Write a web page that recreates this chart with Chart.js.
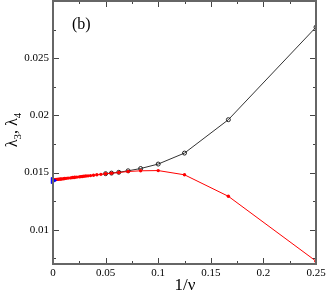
<!DOCTYPE html>
<html><head><meta charset="utf-8">
<script src="https://cdn.jsdelivr.net/npm/chart.js@4"></script>
<style>html,body{margin:0;padding:0;background:#fff;overflow:hidden}#wrap{width:327px;height:293px;overflow:hidden;position:relative}#c{position:absolute;left:0;top:-4px}</style>
</head><body><div id="wrap"><canvas id="c" width="327" height="297"></canvas></div>
<script>
const invNuRed = [0.25,0.1667,0.125,0.1,0.0833,0.0714,0.0625,0.0556,0.05,0.0455,0.0417,0.0385,0.0357,0.0333,0.03125,0.0294,0.0278,0.0263,0.025,0.0227,0.0208,0.02,0.0185,0.0167,0.0143,0.0125,0.0111,0.01,0.0083,0.00714,0.00625,0.005,0.004,0.003,0.002,0.001];
const lambda4 = [0.00725,0.01292,0.0148,0.01517,0.01515,0.01509,0.01500,0.01494,0.01489,0.01484,0.01480,0.01476,0.01473,0.01471,0.01469,0.01467,0.01465,0.01464,0.01462,0.01460,0.01458,0.01457,0.01456,0.01453,0.01451,0.01449,0.01448,0.01446,0.01444,0.01443,0.01442,0.01441,0.01440,0.01439,0.01438,0.01437];
const invNuBlack = [0.25,0.1667,0.125,0.1,0.0833,0.0714,0.0625,0.0556,0.05];
const lambda3 = [0.02771,0.01962,0.0167,0.01574,0.01535,0.01515,0.01502,0.01495,0.0149];
const limitX = [0];
const limitY = [0.0143];
const xTicks = [0,0.05,0.1,0.15,0.2,0.25];
const yTicks = [0.01,0.015,0.02,0.025];

const toPts = (xs, ys) => xs.map((x,i)=>({x:x,y:ys[i]}));
const SERIF = '"Liberation Serif","Times New Roman",serif';
const OFF = 4;

const frame = {
  id:'frame',
  afterDraw(chart){
    const ctx=chart.ctx, a=chart.chartArea, xs=chart.scales.x, ys=chart.scales.y;
    ctx.save();
    ctx.strokeStyle='#444'; ctx.lineWidth=1;
    for(let v=0; v<=0.2501; v+=0.025){
      const p=Math.round(xs.getPixelForValue(v))+0.5;
      const major = Math.abs((v/0.05)-Math.round(v/0.05))<1e-6;
      const L = major?6:3;
      ctx.beginPath();
      ctx.moveTo(p,a.bottom); ctx.lineTo(p,a.bottom-L);
      ctx.moveTo(p,a.top); ctx.lineTo(p,a.top+L);
      ctx.stroke();
    }
    for(let v=0.0075; v<=0.0301; v+=0.0025){
      const p=Math.round(ys.getPixelForValue(v))+0.5;
      const major = Math.abs((v/0.005)-Math.round(v/0.005))<1e-6;
      const L = major?6:3;
      ctx.beginPath();
      ctx.moveTo(a.left,p); ctx.lineTo(a.left+L,p);
      ctx.moveTo(a.right,p); ctx.lineTo(a.right-L,p);
      ctx.stroke();
    }
    ctx.strokeStyle='#666'; ctx.lineWidth=2;
    ctx.strokeRect(a.left,a.top,a.right-a.left,a.bottom-a.top);
    ctx.fillStyle='#000';
    ctx.font='16px '+SERIF;
    ctx.textBaseline='alphabetic'; ctx.textAlign='left';
    ctx.fillText('(b)',72,29+OFF);
    ctx.font='17px '+SERIF; ctx.textAlign='center';
    ctx.fillText('1/\u03bd',185,290+OFF);
    ctx.translate(17,130+OFF); ctx.rotate(-Math.PI/2);
    ctx.textAlign='left';
    const big='16px '+SERIF, small='11px '+SERIF;
    const parts=[['\u03bb',big,0],['3',small,4],[', ',big,0],['\u03bb',big,0],['4',small,4]];
    let w=0; parts.forEach(p=>{ctx.font=p[1]; w+=ctx.measureText(p[0]).width;});
    let x=-w/2;
    parts.forEach(p=>{ctx.font=p[1]; ctx.fillText(p[0],x,p[2]); x+=ctx.measureText(p[0]).width;});
    ctx.restore();
  }
};

new Chart(document.getElementById('c'),{
  type:'scatter',
  data:{datasets:[
    {label:'l3',data:toPts(invNuBlack,lambda3),showLine:true,borderColor:'#333',borderWidth:1,pointRadius:2,pointBorderWidth:1,pointBackgroundColor:'rgba(0,0,0,0)',pointBorderColor:'#222',order:2},
    {label:'l4',data:toPts(invNuRed,lambda4),showLine:true,borderColor:'#ff0000',borderWidth:1,pointRadius:1.7,pointBorderWidth:0,pointBackgroundColor:'#ff0000',order:1},
    {label:'lim',data:toPts(limitX,limitY),showLine:false,pointStyle:'triangle',rotation:90,pointRadius:3.5,pointBackgroundColor:'#0000ff',pointBorderColor:'#0000ff',order:0,clip:false}
  ]},
  options:{
    responsive:false,animation:false,devicePixelRatioOverride:1,
    layout:{padding:{top:1,right:11,left:0,bottom:0}},
    plugins:{legend:{display:false},tooltip:{enabled:false}},
    scales:{
      x:{type:'linear',min:0,max:0.25,
        afterFit(s){s.height=29;s.paddingLeft=0;s.paddingRight=0;},
        afterBuildTicks(s){s.ticks=xTicks.map(v=>({value:v}));},
        grid:{display:false,drawTicks:false},border:{display:false},
        ticks:{padding:3,color:'#000',font:{family:SERIF,size:11},maxRotation:0,callback:v=>String(v)}},
      y:{type:'linear',min:0.007,max:0.03,
        afterFit(s){s.width=53;s.paddingTop=0;s.paddingBottom=0;},
        afterBuildTicks(s){s.ticks=yTicks.map(v=>({value:v}));},
        grid:{display:false,drawTicks:false},border:{display:false},
        ticks:{padding:4,color:'#000',font:{family:SERIF,size:11},callback:v=>String(+v.toFixed(3))}}
    }
  },
  plugins:[frame]
});
</script></body></html>
